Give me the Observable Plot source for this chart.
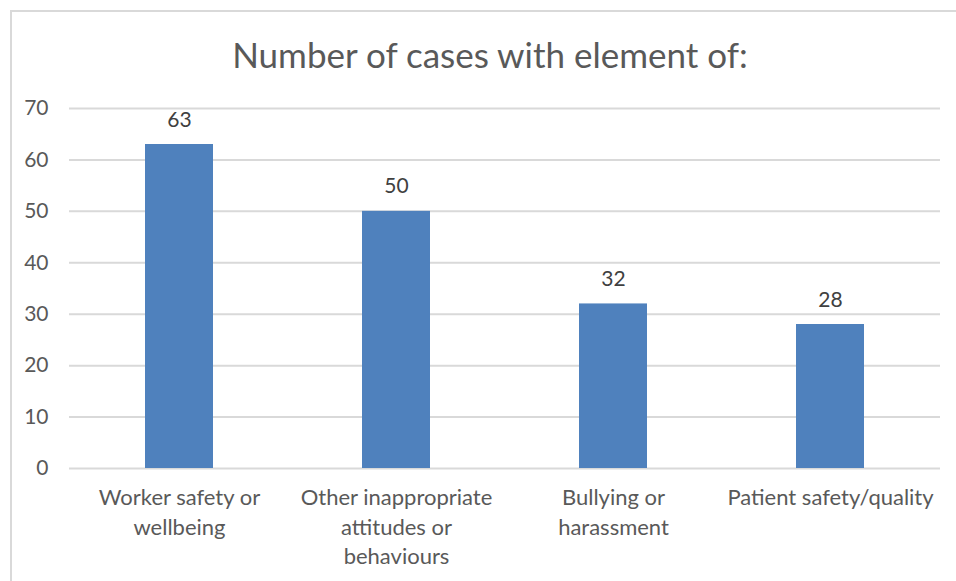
<!DOCTYPE html>
<html>
<head>
<meta charset="utf-8">
<script src="https://cdn.jsdelivr.net/npm/d3@7"></script>
<script src="https://cdn.jsdelivr.net/npm/@observablehq/plot@0.6"></script>
<style>
  html, body { margin: 0; padding: 0; background: #fff; }
  #wrap { position: relative; width: 956px; height: 581px; overflow: hidden; font-family: Lato, "Open Sans", sans-serif; }
  #frame { position: absolute; left: 10px; top: 10px; width: 960px; height: 600px; border-left: 2px solid #d9d9d9; border-top: 2px solid #d9d9d9; box-sizing: border-box; }
  #title { position: absolute; left: 0; top: 34px; width: 980px; text-align: center; font-size: 35px; color: #595959; line-height: 40px; }
  #chart { position: absolute; left: 0; top: 0; }
</style>
</head>
<body>
<div id="wrap">
  <div id="frame"></div>
  <div id="title">Number of cases with element of:</div>
  <div id="chart"></div>
</div>
<script>
const categories = ["Worker safety or wellbeing", "Other inappropriate attitudes or behaviours", "Bullying or harassment", "Patient safety/quality"];
const values = [63, 50, 32, 28];
const tickLabels = ["Worker safety or\nwellbeing", "Other inappropriate\nattitudes or\nbehaviours", "Bullying or\nharassment", "Patient safety/quality"];
const yTicks = [0, 10, 20, 30, 40, 50, 60, 70];

const data = categories.map((c, i) => ({category: c, value: values[i]}));
const labelOf = new Map(categories.map((c, i) => [c, tickLabels[i]]));

const chart = Plot.plot({
  width: 956,
  height: 581,
  marginTop: 108,
  marginBottom: 113,
  marginLeft: 69,
  marginRight: 16,
  style: {fontFamily: "Lato, 'Open Sans', sans-serif", fontSize: "21px", color: "#595959", background: "transparent"},
  x: {domain: categories, paddingInner: 0.687, paddingOuter: 0.3435, label: null},
  y: {domain: [0, 70], label: null},
  marks: [
    Plot.gridY(yTicks, {stroke: "#d9d9d9", strokeOpacity: 1, strokeWidth: 2}),
    Plot.axisY(yTicks, {tickSize: 0, tickPadding: 21, fontSize: 21, fill: "#595959", label: null}),
    Plot.axisX({tickSize: 0, tickPadding: 16, fontSize: 22, fill: "#595959", label: null, lineHeight: 1.34, tickFormat: d => labelOf.get(d)}),
    Plot.barY(data, {x: "category", y: "value", fill: "#4f81bd"}),
    Plot.text(data, {x: "category", y: "value", text: d => String(d.value), dy: -18, lineAnchor: "bottom", fontSize: 21, fill: "#404040"})
  ]
});
document.getElementById("chart").appendChild(chart);
</script>
</body>
</html>
